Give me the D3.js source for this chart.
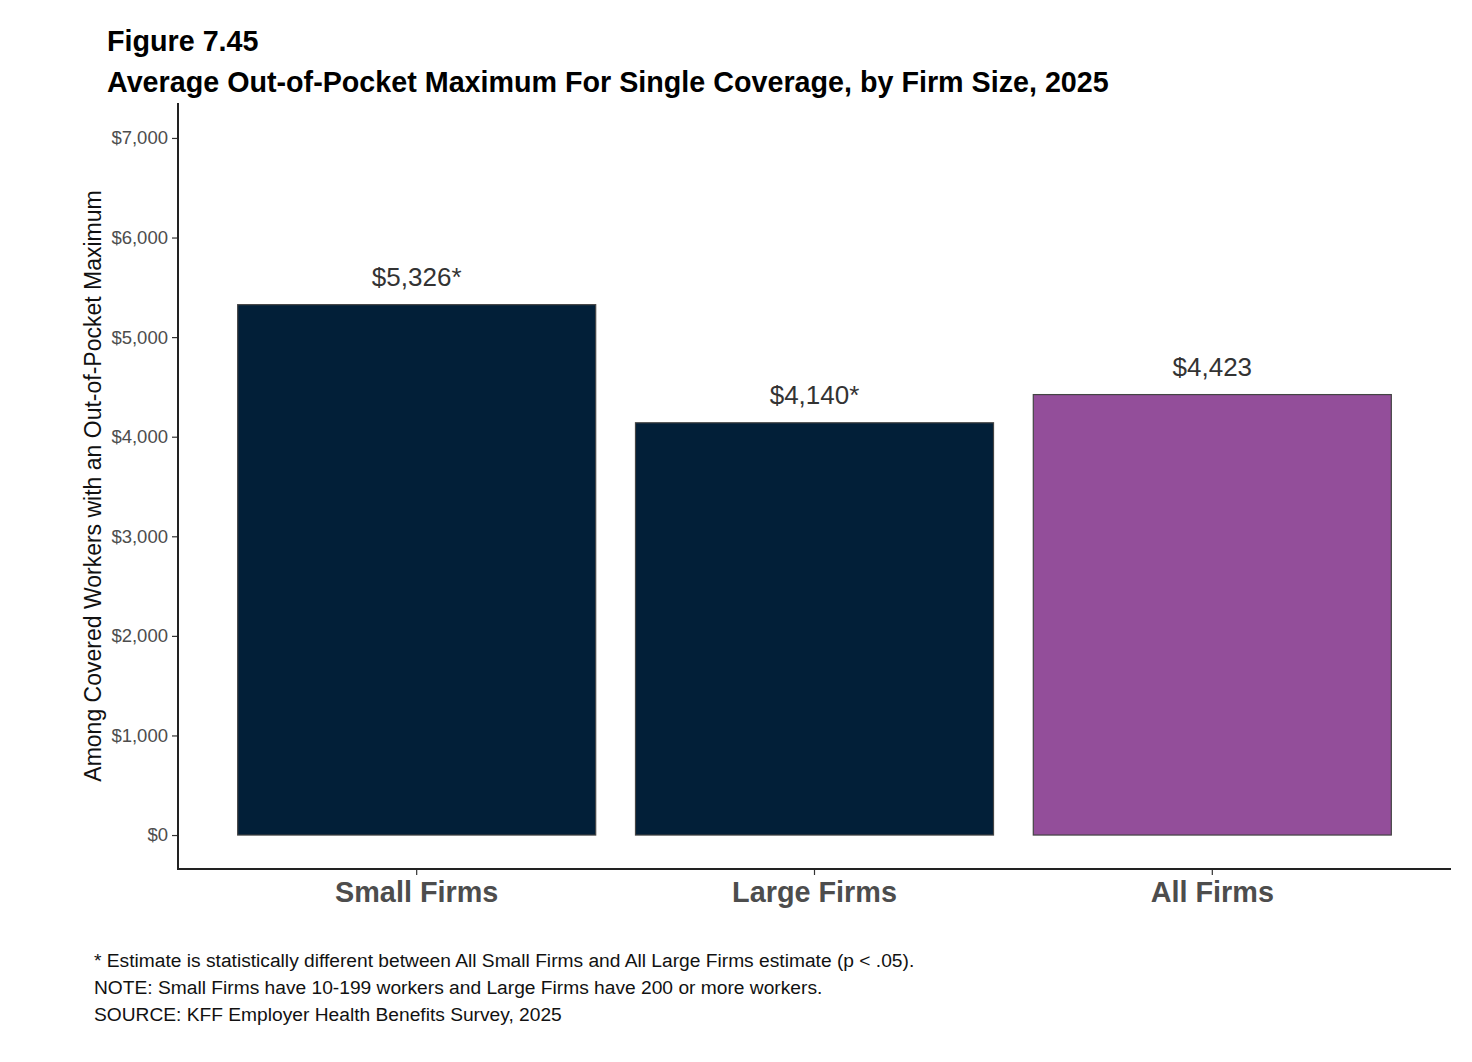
<!DOCTYPE html>
<html><head><meta charset="utf-8">
<script src="https://cdn.jsdelivr.net/npm/d3@7"></script>
<style>body{margin:0;background:#fff;font-family:"Liberation Sans",Arial,sans-serif;}</style>
</head><body><svg id="c" width="1472" height="1062"></svg>
<script>
const categories = ["Small Firms","Large Firms","All Firms"];
const values = [5326, 4140, 4423];
const valueLabels = ["$5,326*","$4,140*","$4,423"];
const barColors = ["#021f38","#021f38","#934e9a"];
const yTicks = [0,1000,2000,3000,4000,5000,6000,7000];
const footnotes = [
 "* Estimate is statistically different between All Small Firms and All Large Firms estimate (p < .05).",
 "NOTE: Small Firms have 10-199 workers and Large Firms have 200 or more workers.",
 "SOURCE: KFF Employer Health Benefits Survey, 2025"];

(function(){
const svg = d3.select("#c");
const pL=178, pR=1451, pT=103, pB=869;
const y = d3.scaleLinear().domain([-341,7351]).range([pB,pT]);
const x = d3.scaleBand().domain(categories).range([pL,pR]).paddingInner(0.1).paddingOuter(0.15);

svg.append("text").attr("x",107).attr("y",51).attr("font-size",28.7).attr("font-weight","bold").attr("fill","#000").text("Figure 7.45");
svg.append("text").attr("x",107).attr("y",92).attr("font-size",28.7).attr("font-weight","bold").attr("fill","#000").text("Average Out-of-Pocket Maximum For Single Coverage, by Firm Size, 2025");

const yAxis = svg.append("g").attr("transform",`translate(${pL},0)`)
 .call(d3.axisLeft(y).tickValues(yTicks).tickSize(6).tickPadding(4).tickFormat(d=>"$"+d3.format(",")(d)));
yAxis.select(".domain").remove();
yAxis.selectAll("line").attr("stroke","#333").attr("stroke-width",1.2);
yAxis.selectAll("text").attr("font-size",18.5).attr("fill","#4d4d4d").attr("font-family","Liberation Sans, Arial, sans-serif");

const xAxis = svg.append("g").attr("transform",`translate(0,${pB})`)
 .call(d3.axisBottom(x).tickSize(6).tickPadding(6));
xAxis.select(".domain").remove();
xAxis.selectAll("line").attr("stroke","#333").attr("stroke-width",1.2);
xAxis.selectAll("text").attr("font-size",28.8).attr("font-weight","bold").attr("fill","#4d4d4d").attr("font-family","Liberation Sans, Arial, sans-serif").attr("y",33).attr("dy",0);

svg.append("line").attr("x1",pL).attr("x2",pL).attr("y1",pT).attr("y2",pB).attr("stroke","#222").attr("stroke-width",2);
svg.append("line").attr("x1",pL-1).attr("x2",pR).attr("y1",pB).attr("y2",pB).attr("stroke","#222").attr("stroke-width",2);

svg.selectAll("rect.bar").data(values).enter().append("rect").attr("class","bar")
 .attr("x",(d,i)=>x(categories[i])).attr("width",x.bandwidth())
 .attr("y",d=>y(d)).attr("height",d=>y(0)-y(d))
 .attr("fill",(d,i)=>barColors[i]).attr("stroke","#444").attr("stroke-width",1.2);

svg.selectAll("text.vl").data(values).enter().append("text").attr("class","vl")
 .attr("x",(d,i)=>x(categories[i])+x.bandwidth()/2).attr("y",d=>y(d)-19)
 .attr("text-anchor","middle").attr("font-size",26).attr("fill","#333").text((d,i)=>valueLabels[i]);

svg.append("text").attr("transform",`translate(101,486) rotate(-90)`).attr("text-anchor","middle")
 .attr("font-size",23).attr("fill","#111").text("Among Covered Workers with an Out-of-Pocket Maximum");

footnotes.forEach((t,i)=>svg.append("text").attr("x",94).attr("y",967+i*27).attr("font-size",19.2).attr("fill","#111").text(t));
})();
</script></body></html>
